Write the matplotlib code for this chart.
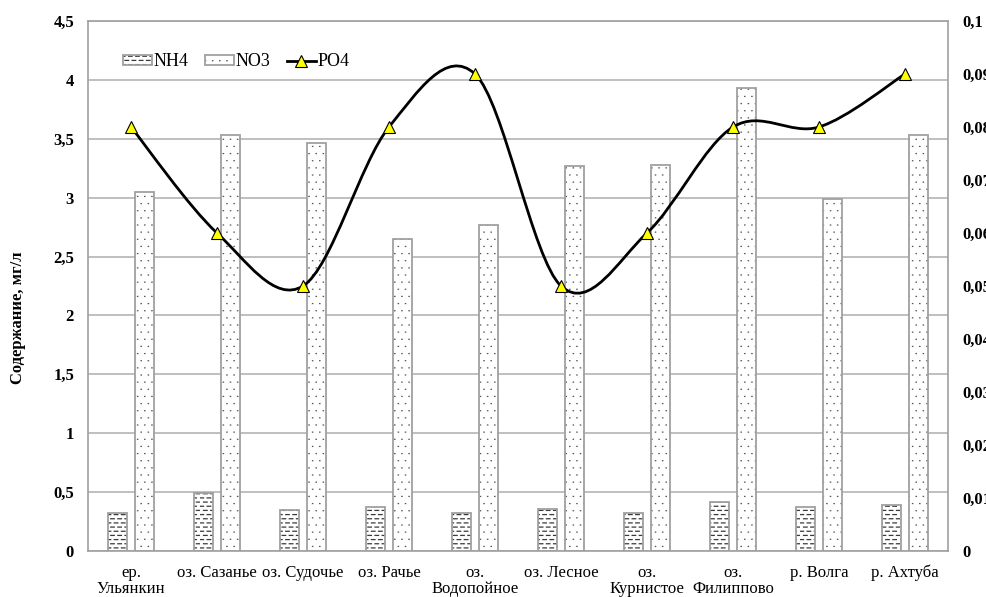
import numpy as np
import matplotlib
matplotlib.use("Agg")
import matplotlib.pyplot as plt
from matplotlib import hatch as mhatch
from matplotlib.path import Path
from matplotlib.patches import Patch, PathPatch
from matplotlib.lines import Line2D
from matplotlib.legend_handler import HandlerTuple

# Sampling sites and measured concentrations
sites = ["ер.\nУльянкин", "оз. Сазанье", "оз. Судочье", "оз. Рачье",
         "оз.\nВодопойное", "оз. Лесное", "оз.\nКурнистое", "оз.\nФилиппово",
         "р. Волга", "р. Ахтуба"]
nh4 = [0.32, 0.49, 0.35, 0.37, 0.32, 0.36, 0.32, 0.42, 0.37, 0.39]
no3 = [3.05, 3.53, 3.46, 2.65, 2.77, 3.27, 3.28, 3.93, 2.99, 3.53]
po4 = [0.08, 0.06, 0.05, 0.08, 0.09, 0.05, 0.06, 0.08, 0.08, 0.09]


# Office-style fills: staggered short dashes for '-' and fine dots for '.'
class DashRows(mhatch.HatchPatternBase):
    def __init__(self, hatch, density):
        self.num_rows = hatch.count('-') * density
        self.num_dashes = 14
        self.num_vertices = self.num_rows * self.num_dashes * 2

    def set_vertices_and_codes(self, vertices, codes):
        step = 1.0 / self.num_dashes
        k = 0
        for r in range(self.num_rows):
            y = (r + 0.5) / self.num_rows
            shift = step / 2 if r % 2 else 0.0
            for d in range(self.num_dashes):
                x0 = d * step + shift
                vertices[k] = (x0, y)
                vertices[k + 1] = (x0 + step / 2, y)
                codes[k] = Path.MOVETO
                codes[k + 1] = Path.LINETO
                k += 2


class FineDots(mhatch.HatchPatternBase):
    def __init__(self, hatch, density):
        self.num_rows = 14 if '.' in hatch else 0
        self.num_vertices = self.num_rows * self.num_rows * 2

    def set_vertices_and_codes(self, vertices, codes):
        step = 1.0 / self.num_rows
        k = 0
        for r in range(self.num_rows):
            y = (r + 0.5) * step
            shift = step / 2 if r % 2 else 0.0
            for c in range(self.num_rows):
                x0 = c * step + shift + step / 4
                vertices[k] = (x0, y)
                vertices[k + 1] = (x0 + 0.003, y)
                codes[k] = Path.MOVETO
                codes[k + 1] = Path.LINETO
                k += 2


mhatch._hatch_types = [h for h in mhatch._hatch_types
                       if h not in (mhatch.HorizontalHatch, mhatch.SmallFilledCircles)]
mhatch._hatch_types += [DashRows, FineDots]

plt.rcParams['font.family'] = ['Liberation Serif', 'DejaVu Serif']
plt.rcParams['hatch.linewidth'] = 0.9

DASH_INK = "#3a3a3a"
DOT_INK = "#555555"
EDGE = "#a0a0a0"
GRID = "#b4b4b4"

fig = plt.figure(figsize=(9.86, 5.97), dpi=100)
ax = fig.add_axes([88 / 986, 46 / 597, 860 / 986, 530 / 597])
ax2 = ax.twinx()

x = np.arange(len(sites))
w = 0.225
off = 0.155

# hatched fill first, grey outline on top
ax.bar(x - off, nh4, w, color="white", edgecolor=DASH_INK, linewidth=0, hatch="----", zorder=2)
ax.bar(x - off, nh4, w, fill=False, edgecolor=EDGE, linewidth=1.3, zorder=3)
ax.bar(x + off, no3, w, color="white", edgecolor=DOT_INK, linewidth=0, hatch=".", zorder=2)
ax.bar(x + off, no3, w, fill=False, edgecolor=EDGE, linewidth=1.3, zorder=3)

ax.set_xlim(-0.5, len(sites) - 0.5)
ax.set_ylim(0, 4.5)
ax.set_yticks(np.arange(0, 4.51, 0.5))
ax.set_yticklabels([f"{v:g}".replace(".", ",") for v in np.arange(0, 4.51, 0.5)],
                   fontsize=12, fontweight="bold")
ax.set_xticks(x)
ax.set_xticklabels(sites, fontsize=12, linespacing=1.05)
ax.tick_params(axis="both", length=0)
ax.tick_params(axis="y", pad=10)
ax.tick_params(axis="x", pad=10)
ax.grid(axis="y", color=GRID, linewidth=1.2, zorder=0)
ax.set_axisbelow(True)
for s in ax.spines.values():
    s.set_color(EDGE)
    s.set_linewidth(1.2)
for s in ax2.spines.values():
    s.set_visible(False)

fig.text(18 / 986, 1 - 318 / 597, "Содержание, мг/л", rotation=90,
         ha="center", va="center", fontsize=12, fontweight="bold")

# right axis for phosphate
ax2.set_ylim(0, 0.1)
rt = np.round(np.arange(0, 0.1001, 0.01), 2)
ax2.set_yticks(rt)
ax2.set_yticklabels([f"{v:g}".replace(".", ",") for v in rt], fontsize=12, fontweight="bold")
ax2.tick_params(axis="y", length=0, pad=10)

# smoothed line through PO4 points (Catmull-Rom as cubic Bezier)
pts = np.column_stack([x, po4]).astype(float)
verts = [pts[0]]
codes = [Path.MOVETO]
n = len(pts)
for i in range(n - 1):
    p_prev = pts[i - 1] if i > 0 else pts[i]
    p_next2 = pts[i + 2] if i + 2 < n else pts[i + 1]
    c1 = pts[i] + (pts[i + 1] - p_prev) / 6
    c2 = pts[i + 1] - (p_next2 - pts[i]) / 6
    verts += [c1, c2, pts[i + 1]]
    codes += [Path.CURVE4] * 3
ax2.add_patch(PathPatch(Path(verts, codes), fill=False, edgecolor="black",
                        linewidth=2.0, zorder=4))
ax2.plot(x, po4, linestyle="none", marker="^", markersize=9,
         markerfacecolor="#ffff00", markeredgecolor="black", markeredgewidth=0.8, zorder=5)

# legend
h_nh4 = (Patch(facecolor="white", edgecolor=DASH_INK, linewidth=0, hatch="----"),
         Patch(fill=False, edgecolor=EDGE, linewidth=1.3))
h_no3 = (Patch(facecolor="white", edgecolor=DOT_INK, linewidth=0, hatch="."),
         Patch(fill=False, edgecolor=EDGE, linewidth=1.3))
h_po4 = Line2D([], [], color="black", linewidth=2.0, marker="^", markersize=9,
               markerfacecolor="#ffff00", markeredgecolor="black", markeredgewidth=0.8)
ax2.legend([h_nh4, h_no3, h_po4], ["NH4", "NO3", "PO4"],
           handler_map={tuple: HandlerTuple(ndivide=1, pad=0)},
           loc="center left", bbox_to_anchor=(0.022, 0.923), ncol=3, frameon=False,
           fontsize=13, handlelength=1.6, handleheight=0.5, handletextpad=0.1,
           columnspacing=0.9)

fig.savefig("out.png", dpi=100)
